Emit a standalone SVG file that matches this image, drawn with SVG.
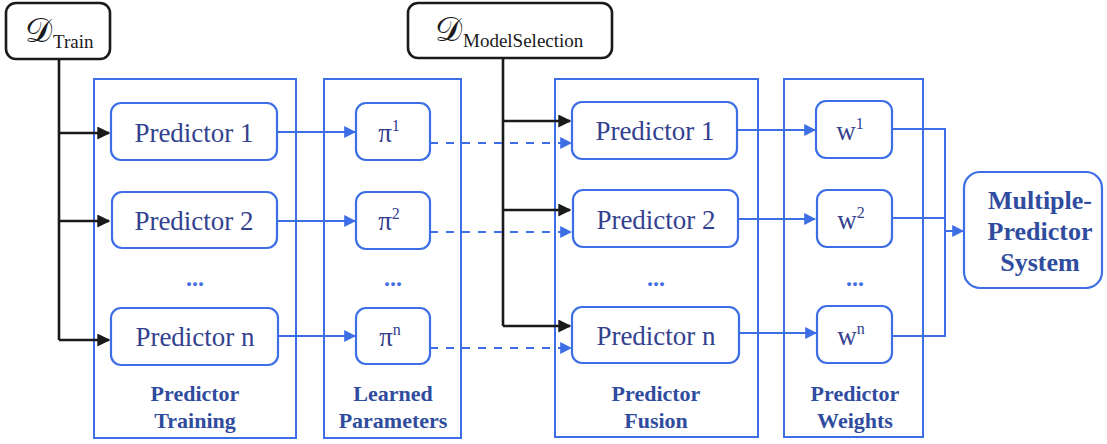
<svg xmlns="http://www.w3.org/2000/svg" width="1107" height="444" viewBox="0 0 1107 444">
  <style>
    .col { fill: none; stroke: #3d6ee6; stroke-width: 2; }
    .box { fill: #ffffff; stroke: #3d6ee6; stroke-width: 2.2; }
    .dbox { fill: #ffffff; stroke: #1a1a1a; stroke-width: 2.6; }
    .lbl { font-family: "Liberation Serif", "DejaVu Serif", serif; font-size: 27px; fill: #33418f; text-anchor: middle; }
    .head { font-family: "Liberation Serif", "DejaVu Serif", serif; font-size: 22px; font-weight: bold; fill: #2f4c9e; text-anchor: middle; }
    .big { font-family: "Liberation Serif", "DejaVu Serif", serif; font-size: 26px; font-weight: bold; fill: #2f4c9e; text-anchor: middle; }
    .dots { font-family: "Liberation Serif", serif; font-size: 24px; font-weight: bold; fill: #3d6ee6; text-anchor: middle; }
    .data { font-family: "Liberation Serif", "DejaVu Serif", serif; fill: #1a1a1a; }
    .blk { fill: none; stroke: #1a1a1a; stroke-width: 2.6; }
    .blu { fill: none; stroke: #3d6ee6; stroke-width: 2; }
    .dash { fill: none; stroke: #3d6ee6; stroke-width: 2; stroke-dasharray: 8 8; }
  </style>
  <defs>
    <marker id="ahBlack" viewBox="0 0 10 10" refX="9" refY="5" markerWidth="5" markerHeight="5" orient="auto" markerUnits="strokeWidth">
      <path d="M0,0 L10,5 L0,10 z" fill="#1a1a1a"/>
    </marker>
    <marker id="ahBlue" viewBox="0 0 10 10" refX="9" refY="5" markerWidth="6" markerHeight="6" orient="auto" markerUnits="strokeWidth">
      <path d="M0,0 L10,5 L0,10 z" fill="#3d6ee6"/>
    </marker>
  </defs>

  <!-- stage columns -->
  <g id="stage-training">
    <rect class="col" x="94" y="79" width="202" height="359"/>
    <text class="head" x="195" y="401">Predictor</text>
    <text class="head" x="195" y="428">Training</text>
    <text class="dots" x="195" y="286">...</text>
  </g>
  <g id="stage-parameters">
    <rect class="col" x="324" y="79" width="137" height="359"/>
    <text class="head" x="393" y="401">Learned</text>
    <text class="head" x="393" y="428">Parameters</text>
    <text class="dots" x="393" y="286">...</text>
  </g>
  <g id="stage-fusion">
    <rect class="col" x="555" y="79" width="203" height="358"/>
    <text class="head" x="656" y="401">Predictor</text>
    <text class="head" x="656" y="428">Fusion</text>
    <text class="dots" x="656" y="286">...</text>
  </g>
  <g id="stage-weights">
    <rect class="col" x="784" y="79" width="139" height="358"/>
    <text class="head" x="855" y="401">Predictor</text>
    <text class="head" x="855" y="428">Weights</text>
    <text class="dots" x="855" y="286">...</text>
  </g>

  <!-- connectors -->
  <g id="connectors">
    <!-- training data feed -->
    <path class="blk" d="M59,60 V340"/>
    <path class="blk" d="M59,133 H109" marker-end="url(#ahBlack)"/>
    <path class="blk" d="M59,221 H109" marker-end="url(#ahBlack)"/>
    <path class="blk" d="M59,340 H109" marker-end="url(#ahBlack)"/>
    <!-- model selection data feed -->
    <path class="blk" d="M503,58 V326"/>
    <path class="blk" d="M503,121 H570" marker-end="url(#ahBlack)"/>
    <path class="blk" d="M503,210 H570" marker-end="url(#ahBlack)"/>
    <path class="blk" d="M503,326 H570" marker-end="url(#ahBlack)"/>
    <!-- trained predictors to learned parameters -->
    <path class="blu" d="M277,132 H355" marker-end="url(#ahBlue)"/>
    <path class="blu" d="M277,221 H355" marker-end="url(#ahBlue)"/>
    <path class="blu" d="M278,336 H355" marker-end="url(#ahBlue)"/>
    <!-- parameters to fusion -->
    <path class="dash" d="M430,143 H571" marker-end="url(#ahBlue)"/>
    <path class="dash" d="M430,232 H571" marker-end="url(#ahBlue)"/>
    <path class="dash" d="M430,348 H571" marker-end="url(#ahBlue)"/>
    <!-- fusion to weights -->
    <path class="blu" d="M737,130 H815" marker-end="url(#ahBlue)"/>
    <path class="blu" d="M738,219 H815" marker-end="url(#ahBlue)"/>
    <path class="blu" d="M739,333 H816" marker-end="url(#ahBlue)"/>
    <!-- weights bus to system -->
    <path class="blu" d="M892,129 H945 V336 H892"/>
    <path class="blu" d="M892,218 H945"/>
    <path class="blu" d="M945,231 H963" marker-end="url(#ahBlue)"/>
  </g>

  <!-- data sources -->
  <g id="d-train">
    <rect class="dbox" x="6" y="3" width="104" height="56" rx="10"/>
    <text class="data" x="25" y="42" font-size="34">𝒟</text>
    <text class="data" x="53" y="48" font-size="19">Train</text>
  </g>
  <g id="d-modelselection">
    <rect class="dbox" x="408" y="3" width="204" height="55" rx="10"/>
    <text class="data" x="435" y="41" font-size="34">𝒟</text>
    <text class="data" x="463" y="47" font-size="19">ModelSelection</text>
  </g>

  <!-- training predictors -->
  <g id="train-p1">
    <rect class="box" x="111" y="103" width="166" height="57" rx="10"/>
    <text class="lbl" x="194" y="142">Predictor 1</text>
  </g>
  <g id="train-p2">
    <rect class="box" x="112" y="192" width="165" height="56" rx="10"/>
    <text class="lbl" x="194" y="230">Predictor 2</text>
  </g>
  <g id="train-pn">
    <rect class="box" x="111" y="308" width="167" height="57" rx="10"/>
    <text class="lbl" x="195" y="346">Predictor n</text>
  </g>

  <!-- learned parameters -->
  <g id="param-1">
    <rect class="box" x="356" y="103" width="74" height="57" rx="10"/>
    <text class="lbl" x="389" y="142">π<tspan font-size="16" dy="-11">1</tspan></text>
  </g>
  <g id="param-2">
    <rect class="box" x="356" y="192" width="74" height="57" rx="10"/>
    <text class="lbl" x="389" y="230">π<tspan font-size="16" dy="-11">2</tspan></text>
  </g>
  <g id="param-n">
    <rect class="box" x="356" y="308" width="74" height="56" rx="10"/>
    <text class="lbl" x="390" y="346">π<tspan font-size="16" dy="-11">n</tspan></text>
  </g>

  <!-- fusion predictors -->
  <g id="fusion-p1">
    <rect class="box" x="572" y="102" width="165" height="57" rx="10"/>
    <text class="lbl" x="655" y="140">Predictor 1</text>
  </g>
  <g id="fusion-p2">
    <rect class="box" x="573" y="190" width="165" height="57" rx="10"/>
    <text class="lbl" x="656" y="229">Predictor 2</text>
  </g>
  <g id="fusion-pn">
    <rect class="box" x="572" y="307" width="167" height="56" rx="10"/>
    <text class="lbl" x="656" y="345">Predictor n</text>
  </g>

  <!-- predictor weights -->
  <g id="weight-1">
    <rect class="box" x="816" y="101" width="76" height="57" rx="10"/>
    <text class="lbl" x="850" y="140">w<tspan font-size="16" dy="-11">1</tspan></text>
  </g>
  <g id="weight-2">
    <rect class="box" x="817" y="190" width="75" height="57" rx="10"/>
    <text class="lbl" x="851" y="229">w<tspan font-size="16" dy="-11">2</tspan></text>
  </g>
  <g id="weight-n">
    <rect class="box" x="817" y="306" width="75" height="57" rx="10"/>
    <text class="lbl" x="851" y="345">w<tspan font-size="16" dy="-11">n</tspan></text>
  </g>

  <!-- combined system -->
  <g id="system">
    <rect class="box" x="964" y="172" width="138" height="116" rx="16"/>
    <text class="big" x="1040" y="209">Multiple-</text>
    <text class="big" x="1040" y="240">Predictor</text>
    <text class="big" x="1040" y="271">System</text>
  </g>
</svg>
